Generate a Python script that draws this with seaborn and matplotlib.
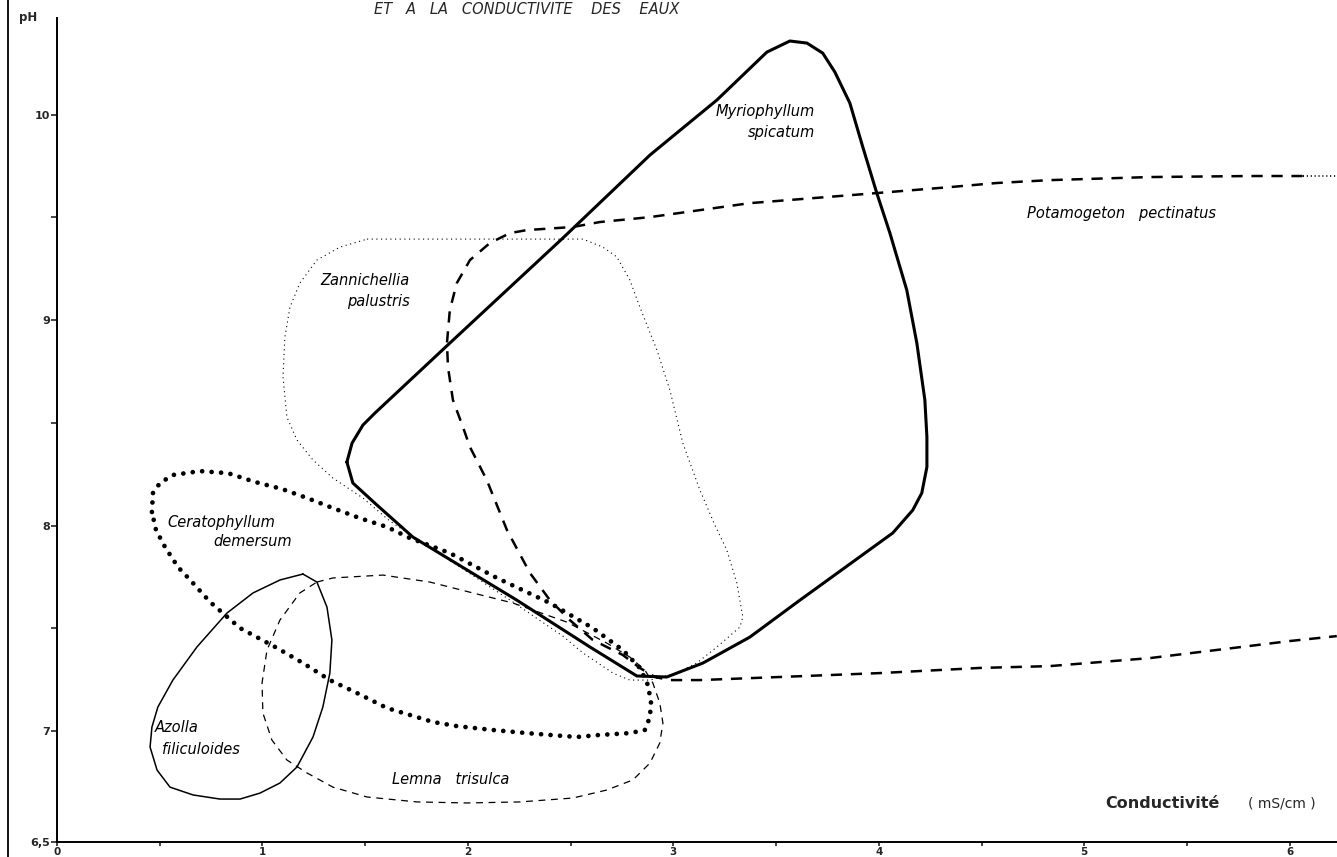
import matplotlib
matplotlib.use('Agg')
import matplotlib.pyplot as plt
from matplotlib.lines import Line2D
import seaborn as sns
import pandas as pd

# closed outlines (conductivity mS/cm, pH)
myrio_x = [1.411, 1.436, 1.489, 1.547, 1.912, 2.462, 2.886, 3.212, 3.455, 3.567,
           3.650, 3.727, 3.786, 3.859, 3.922, 3.990, 4.054, 4.136, 4.185, 4.224,
           4.234, 4.234, 4.209, 4.165, 4.068, 3.616, 3.372, 3.144, 2.968, 2.822,
           2.594, 2.238, 1.732, 1.557, 1.440, 1.411]
myrio_y = [8.309, 8.401, 8.489, 8.547, 8.888, 9.399, 9.803, 10.071, 10.304, 10.358,
           10.348, 10.299, 10.207, 10.056, 9.842, 9.618, 9.423, 9.146, 8.888, 8.611,
           8.431, 8.285, 8.158, 8.075, 7.964, 7.637, 7.457, 7.331, 7.263, 7.268,
           7.409, 7.637, 7.944, 8.100, 8.207, 8.309]

cerat_x = [0.462, 0.467, 0.501, 0.564, 0.696, 0.832, 0.964, 1.095, 1.217, 1.343,
           1.474, 1.606, 1.718, 1.912, 2.141, 2.399, 2.608, 2.754, 2.837, 2.876,
           2.891, 2.886, 2.861, 2.788, 2.642, 2.530, 2.399, 2.287, 2.122, 1.946,
           1.830, 1.606, 1.460, 1.328, 1.197, 1.071, 0.891, 0.745, 0.662, 0.589,
           0.526, 0.482, 0.462]
cerat_y = [8.066, 8.158, 8.207, 8.246, 8.265, 8.255, 8.212, 8.178, 8.134, 8.085,
           8.036, 7.993, 7.939, 7.866, 7.745, 7.623, 7.501, 7.394, 7.307, 7.224,
           7.141, 7.068, 7.005, 6.990, 6.981, 6.971, 6.981, 6.990, 7.005, 7.024,
           7.044, 7.112, 7.185, 7.248, 7.331, 7.404, 7.501, 7.628, 7.720, 7.798,
           7.895, 7.978, 8.066]

azolla_x = [1.197, 1.265, 1.314, 1.338, 1.328, 1.294, 1.246, 1.168, 1.085, 0.988,
            0.891, 0.793, 0.662, 0.550, 0.487, 0.453, 0.462, 0.491, 0.564, 0.681,
            0.827, 0.954, 1.085, 1.197]
azolla_y = [7.764, 7.725, 7.603, 7.443, 7.282, 7.117, 6.971, 6.825, 6.747, 6.698,
            6.669, 6.669, 6.689, 6.727, 6.810, 6.922, 7.019, 7.117, 7.248, 7.409,
            7.574, 7.672, 7.735, 7.764]

lemna_x = [1.265, 1.343, 1.586, 1.815, 2.024, 2.219, 2.482, 2.676, 2.788, 2.861,
           2.900, 2.934, 2.949, 2.934, 2.886, 2.803, 2.676, 2.511, 2.253, 1.995,
           1.752, 1.509, 1.343, 1.217, 1.119, 1.046, 1.002, 0.998, 1.022, 1.085,
           1.182, 1.265]
lemna_y = [7.725, 7.745, 7.759, 7.725, 7.672, 7.623, 7.530, 7.428, 7.360, 7.297,
           7.234, 7.136, 7.039, 6.942, 6.844, 6.762, 6.713, 6.674, 6.655, 6.650,
           6.655, 6.679, 6.727, 6.796, 6.859, 6.956, 7.088, 7.234, 7.394, 7.540,
           7.672, 7.725]

zanni_x = [1.509, 2.560, 2.657, 2.725, 2.788, 2.837, 2.920, 2.983, 3.046, 3.129,
           3.202, 3.260, 3.309, 3.338, 3.324, 3.212, 3.114, 3.017, 2.886, 2.788,
           2.706, 2.560, 2.462, 2.219, 1.946, 1.766, 1.620, 1.489, 1.343, 1.246,
           1.168, 1.119, 1.100, 1.109, 1.134, 1.182, 1.265, 1.377, 1.509]
zanni_y = [9.394, 9.394, 9.355, 9.307, 9.195, 9.063, 8.854, 8.659, 8.401, 8.173,
           8.002, 7.881, 7.720, 7.555, 7.506, 7.409, 7.331, 7.282, 7.248, 7.248,
           7.282, 7.380, 7.462, 7.628, 7.808, 7.925, 8.022, 8.134, 8.231, 8.319,
           8.416, 8.528, 8.723, 8.917, 9.063, 9.180, 9.292, 9.355, 9.394]

# open outline, runs off the right edge
potam_x = [6.063, 5.805, 5.319, 4.832, 4.574, 4.345, 3.990, 3.372, 2.886, 2.642,
           2.511, 2.287, 2.204, 2.107, 2.010, 1.946, 1.912, 1.898, 1.903, 1.927,
           1.976, 2.010, 2.092, 2.190, 2.302, 2.399, 2.496, 2.608, 2.754, 2.837,
           2.910, 2.983, 3.129, 3.518, 4.005, 4.491, 4.832, 5.319, 5.805, 6.000,
           6.229]
potam_y = [9.701, 9.701, 9.696, 9.681, 9.667, 9.647, 9.618, 9.569, 9.501, 9.477,
           9.453, 9.438, 9.423, 9.375, 9.292, 9.180, 9.049, 8.888, 8.771, 8.611,
           8.479, 8.382, 8.221, 7.978, 7.769, 7.637, 7.540, 7.443, 7.370, 7.307,
           7.263, 7.248, 7.248, 7.263, 7.282, 7.307, 7.316, 7.355, 7.414, 7.438,
           7.462]
potam_tail_x = [6.063, 6.229]
potam_tail_y = [9.701, 9.701]

x_ticks = [0, 1, 2, 3, 4, 5, 6]
x_minor = [0.5, 1.5, 2.5, 3.5, 4.5, 5.5]
y_ticks = [7, 8, 9, 10]
y_minor = [7.5, 8.5, 9.5]
y_tick_labels = ['6,5', '7', '8', '9', '10']

sns.set_style('ticks', {'axes.edgecolor': '0.0',
                        'xtick.direction': 'out',
                        'ytick.direction': 'out'})
plt.rcParams['font.family'] = ['DejaVu Sans']

fig = plt.figure(figsize=(13.37, 8.57), dpi=100)
ax = fig.add_axes([57 / 1337, 15 / 857, 1 - 57 / 1337, 824 / 857])


def outline(xs, ys, **kw):
    df = pd.DataFrame({'x': xs, 'y': ys})
    sns.lineplot(data=df, x='x', y='y', sort=False, estimator=None,
                 color='k', ax=ax, **kw)


outline(myrio_x, myrio_y, lw=2.2, solid_joinstyle='round')
outline(azolla_x, azolla_y, lw=1.1)
outline(lemna_x, lemna_y, lw=0.9, linestyle=(0, (5.5, 4.5)))
outline(potam_x, potam_y, lw=1.8, linestyle=(0, (4.5, 3.5)))
outline(potam_tail_x, potam_tail_y, lw=1.4, linestyle=(0, (0.5, 1.5)))
outline(zanni_x, zanni_y, lw=0.8, linestyle=(0, (1, 3.2)))
outline(cerat_x, cerat_y, lw=3.4, linestyle=(0, (0.01, 2.0)),
        dash_capstyle='round')

ymin = 6.46
ax.set_xticks(x_ticks)
ax.set_xticks(x_minor, minor=True)
ax.set_yticks([ymin] + y_ticks)
ax.set_yticks(y_minor, minor=True)
ax.set_xticklabels([str(v) for v in x_ticks], fontweight='bold', fontsize=7.5)
ax.set_yticklabels(y_tick_labels, fontweight='bold', fontsize=8)
ax.set_xlim(0, 6.23)
ax.set_ylim(ymin, 10.47)
ax.tick_params(which='both', length=4, width=1.2, pad=1)
ax.tick_params(axis='x', which='both', length=3, pad=0.5)
ax.set_xlabel('')
ax.set_ylabel('')
sns.despine(ax=ax)
ax.spines['left'].set_linewidth(1.4)
ax.spines['bottom'].set_linewidth(1.4)

lab = dict(style='italic', fontsize=10.5, color='k')
ax.text(3.689, 9.964, 'Myriophyllum\nspicatum', ha='right', va='center',
        multialignment='right', linespacing=1.45, **lab)
ax.text(4.72, 9.521, 'Potamogeton   pectinatus', ha='left', va='center', **lab)
ax.text(1.718, 9.141, 'Zannichellia\npalustris', ha='right', va='center',
        multialignment='right', linespacing=1.45, **lab)
ax.text(0.535, 8.017, 'Ceratophyllum', ha='left', va='center', **lab)
ax.text(0.759, 7.920, 'demersum', ha='left', va='center', **lab)
ax.text(0.477, 7.015, 'Azolla', ha='left', va='center', **lab)
ax.text(0.511, 6.912, 'filiculoides', ha='left', va='center', **lab)
ax.text(1.630, 6.766, 'Lemna   trisulca', ha='left', va='center', **lab)

ax.text(5.10, 6.645, 'Conductivité', ha='left', va='center',
        fontweight='bold', fontsize=11.5)
ax.text(5.796, 6.645, '( mS/cm )', ha='left', va='center', fontsize=10)
ax.text(-0.0225, 1.0, 'pH', transform=ax.transAxes, ha='center', va='center',
        fontweight='bold', fontsize=8.5)

fig.text(527 / 1337, 1 - 10 / 857, 'ET   A   LA   CONDUCTIVITE    DES    EAUX',
         ha='center', va='center', style='italic', fontsize=10.5)
fig.add_artist(Line2D([8 / 1337, 8 / 1337], [0, 1], transform=fig.transFigure,
                      color='k', lw=1.3))

fig.savefig('out.png', dpi=100)
